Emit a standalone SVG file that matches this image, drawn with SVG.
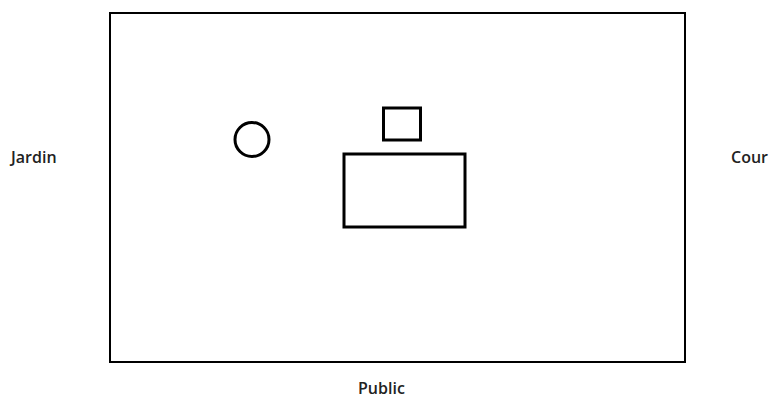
<svg xmlns="http://www.w3.org/2000/svg" width="774" height="401" viewBox="0 0 774 401">
<style>
.s{fill:none;stroke:#000}
.t{font-family:"Open Sans","DejaVu Sans",sans-serif;font-size:16px;font-weight:600;fill:#222}
</style>
<rect width="774" height="401" fill="#fff"/>
<rect class="s" x="110" y="13" width="575" height="349" stroke-width="2"/>
<circle class="s" cx="252" cy="139.5" r="17" stroke-width="3"/>
<rect class="s" x="383.5" y="108" width="37" height="32" stroke-width="3"/>
<rect class="s" x="344" y="154" width="121" height="73" stroke-width="3"/>
<text class="t" x="11" y="163">Jardin</text>
<text class="t" x="731" y="163">Cour</text>
<text class="t" x="358" y="394">Public</text>
</svg>
